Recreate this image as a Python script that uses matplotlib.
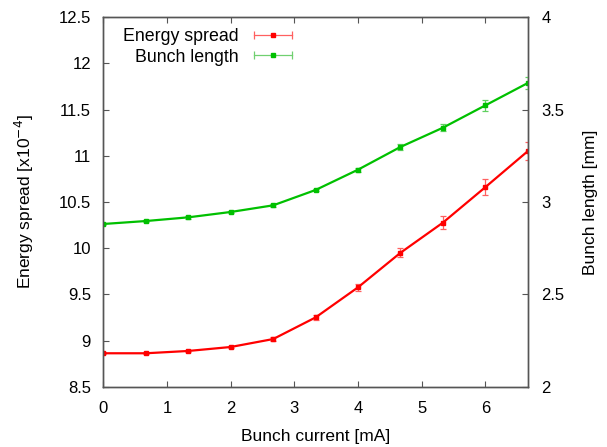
import matplotlib
matplotlib.use("Agg")
import matplotlib.pyplot as plt
from matplotlib.lines import Line2D
from matplotlib.legend_handler import HandlerLine2D, HandlerTuple

plt.rcParams['font.family'] = ['Liberation Sans', 'DejaVu Sans']
plt.rcParams['font.size'] = 12

# Data
current = [0.0, 0.667, 1.333, 2.0, 2.667, 3.333, 4.0, 4.667, 5.333, 6.0, 6.667]
energy_spread = [8.862, 8.862, 8.887, 8.93, 9.016, 9.25, 9.576, 9.95, 10.276, 10.66, 11.05]
energy_err = [0.012, 0.012, 0.015, 0.015, 0.02, 0.025, 0.036, 0.047, 0.07, 0.087, 0.1]
bunch_length = [2.881, 2.897, 2.917, 2.946, 2.982, 3.065, 3.175, 3.298, 3.402, 3.523, 3.644]
bunch_err = [0.006, 0.006, 0.007, 0.007, 0.008, 0.008, 0.01, 0.016, 0.02, 0.03, 0.034]

red = '#ff0000'
green = '#00c000'
border = '#555555'

fig = plt.figure(figsize=(6.07, 4.47), dpi=100)
ax = fig.add_axes([0.1705, 0.1349, 0.6989, 0.8264])
ax2 = ax.twinx()

ax.errorbar(current, energy_spread, yerr=energy_err, color=red, lw=1.6,
            marker='s', ms=3.5, ecolor='#ff6060', elinewidth=0.9, capsize=2.2, capthick=0.9)
ax2.errorbar(current, bunch_length, yerr=bunch_err, color=green, lw=1.6,
             marker='s', ms=3.5, ecolor='#60d060', elinewidth=0.9, capsize=2.2, capthick=0.9)

ax.set_xlim(0, 6.667)
ax.set_ylim(8.5, 12.5)
ax2.set_ylim(2, 4)
ax.set_xticks([0, 1, 2, 3, 4, 5, 6])
ax.set_yticks([8.5, 9, 9.5, 10, 10.5, 11, 11.5, 12, 12.5])
ax.set_yticklabels(['8.5', '9', '9.5', '10', '10.5', '11', '11.5', '12', '12.5'])
ax2.set_yticks([2, 2.5, 3, 3.5, 4])
ax2.set_yticklabels(['2', '2.5', '3', '3.5', '4'])

ax.tick_params(axis='x', direction='in', top=True, length=4, color=border, pad=10)
ax.tick_params(axis='y', direction='in', length=4, color=border, pad=9)
ax2.tick_params(axis='y', direction='in', length=4, color=border, pad=10)
for a in (ax, ax2):
    for s in a.spines.values():
        s.set_color(border)
        s.set_linewidth(1.0)

ax.set_xlabel('Bunch current [mA]', labelpad=10, fontsize=12.5)
ax.set_ylabel('Energy spread [x10$^{-4}$]', labelpad=16, fontsize=12.5)
ax2.set_ylabel('Bunch length [mm]', labelpad=13, fontsize=12.5)

# gnuplot-style legend keys: horizontal bar with end caps and a square marker
handles = []
for c, ec in ((red, '#ff6060'), (green, '#70d070')):
    caps = Line2D([], [], color=ec, lw=0.9, marker='|', ms=6, mew=0.9)
    mark = Line2D([], [], color=c, lw=0, marker='s', ms=3.5)
    handles.append((caps, mark))
ax.legend(handles, ['Energy spread', 'Bunch length'], loc='upper left',
          bbox_to_anchor=(0.02, 1.0), frameon=False, markerfirst=False,
          handlelength=2.7, handler_map={
              tuple: HandlerTuple(ndivide=1, pad=0),
              handles[0][0]: HandlerLine2D(numpoints=2),
              handles[1][0]: HandlerLine2D(numpoints=2),
              handles[0][1]: HandlerLine2D(numpoints=1),
              handles[1][1]: HandlerLine2D(numpoints=1)},
          fontsize=12.8, borderaxespad=0.2, labelspacing=0.2, handletextpad=0.6)

fig.savefig('out.png', dpi=100)
